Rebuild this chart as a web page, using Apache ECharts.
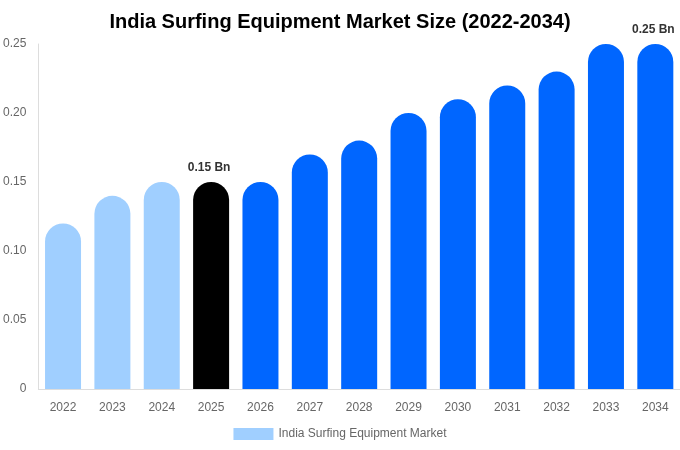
<!DOCTYPE html>
<html><head><meta charset="utf-8">
<script src="https://cdn.jsdelivr.net/npm/echarts@6/dist/echarts.min.js"></script>
<style>html,body{margin:0;padding:0;background:#fff}#c{width:680px;height:450px}</style>
</head><body><div id="c"></div>
<script>
const categories = ['2022','2023','2024','2025','2026','2027','2028','2029','2030','2031','2032','2033','2034'];
const values = [0.12,0.14,0.15,0.15,0.15,0.17,0.18,0.20,0.21,0.22,0.23,0.25,0.25];
const yTicks = [0,0.05,0.10,0.15,0.20,0.25];
const labelled = {'2025':'0.15 Bn','2034':'0.25 Bn'};
const seriesName = 'India Surfing Equipment Market';
const title = 'India Surfing Equipment Market Size (2022-2034)';

function colorFor(c){
  const y = +c;
  if (y < 2025) return '#a0cfff';
  if (y === 2025) return '#000000';
  return '#0066ff';
}
const data = categories.map((c,i)=>({
  value: values[i],
  itemStyle:{color:colorFor(c)},
  label: labelled[c] ? {show:true, position:'top', formatter:labelled[c], fontWeight:'bold', fontSize:12, color:'#333', distance:8, offset:[-2,0]} : {show:false}
}));
const chart = echarts.init(document.getElementById('c'), null, {renderer:'canvas'});
chart.setOption({
  animation:false,
  textStyle:{fontFamily:'Liberation Sans, Arial, sans-serif'},
  title:{text:title,left:'center',top:7,textStyle:{fontSize:20,fontWeight:'bold',color:'#000',fontFamily:'Liberation Sans, Arial, sans-serif'}},
  legend:{bottom:5,left:'center',itemWidth:40,itemHeight:12,icon:'rect',data:[{name:seriesName,itemStyle:{color:'#a0cfff'}}],textStyle:{color:'#666',fontSize:12}},
  grid:{left:37,right:0,top:44,bottom:61,containLabel:false},
  xAxis:{type:'category',data:categories,axisTick:{show:false},axisLine:{lineStyle:{color:'#ddd'}},axisLabel:{color:'#666',fontSize:12,margin:13}},
  yAxis:{type:'value',min:0,max:yTicks[yTicks.length-1],interval:0.05,splitLine:{show:false},axisLine:{show:true,lineStyle:{color:'#ddd'}},axisTick:{show:false},
    axisLabel:{color:'#666',fontSize:12,margin:12,formatter:v=>v===0?'0':v.toFixed(2)}},
  series:[{name:seriesName,type:'bar',data:data,barWidth:36,itemStyle:{borderRadius:[18,18,0,0]}}]
});
</script></body></html>
